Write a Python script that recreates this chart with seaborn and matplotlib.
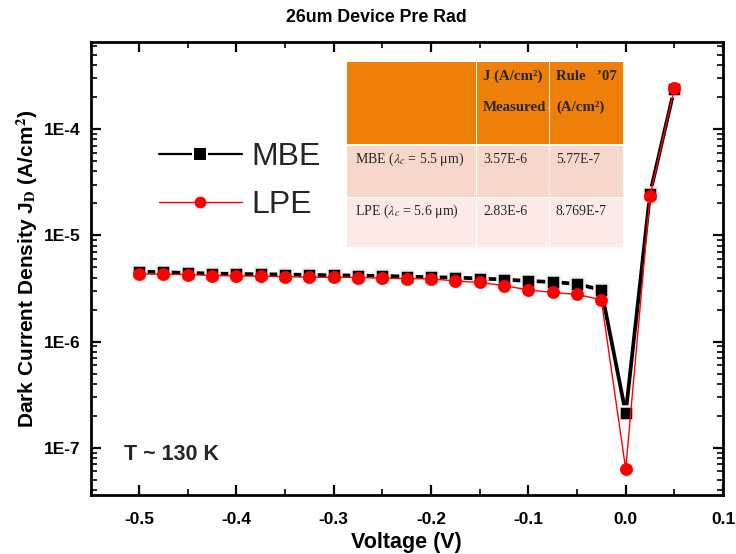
import numpy as np
import pandas as pd
import matplotlib
matplotlib.use("Agg")
import matplotlib.pyplot as plt
import seaborn as sns
from matplotlib.patches import Rectangle
from matplotlib.lines import Line2D
from matplotlib.ticker import FixedLocator, LogLocator, NullFormatter, MultipleLocator

# ---------------- data ----------------
voltage = [-0.5, -0.475, -0.45, -0.425, -0.4, -0.375, -0.35, -0.325, -0.3, -0.275,
           -0.25, -0.225, -0.2, -0.175, -0.15, -0.125, -0.1, -0.075, -0.05, -0.025,
           0.0, 0.025, 0.05]
mbe_j = [4.56e-6, 4.49e-6, 4.43e-6, 4.37e-6, 4.33e-6, 4.30e-6, 4.28e-6, 4.24e-6, 4.21e-6, 4.18e-6,
         4.15e-6, 4.09e-6, 4.03e-6, 4.01e-6, 3.92e-6, 3.84e-6, 3.72e-6, 3.64e-6, 3.49e-6, 3.06e-6,
         2.12e-7, 2.47e-5, 2.40e-4]
lpe_j = [4.33e-6, 4.30e-6, 4.28e-6, 4.18e-6, 4.15e-6, 4.12e-6, 4.09e-6, 4.03e-6, 4.03e-6, 4.01e-6,
         3.95e-6, 3.92e-6, 3.89e-6, 3.72e-6, 3.60e-6, 3.37e-6, 3.06e-6, 2.90e-6, 2.78e-6, 2.47e-6,
         6.3e-8, 2.34e-5, 2.42e-4]
series_names = ["MBE", "LPE"]

x_ticks = [-0.5, -0.4, -0.3, -0.2, -0.1, 0.0, 0.1]
x_tick_labels = ["-0.5", "-0.4", "-0.3", "-0.2", "-0.1", "0.0", "0.1"]
y_ticks = [1e-7, 1e-6, 1e-5, 1e-4]
y_tick_labels = ["1E-7", "1E-6", "1E-5", "1E-4"]

table_header = ["", "J (A/cm\u00b2)\nMeasured", "Rule   \u201907\n(A/cm\u00b2)"]
table_rows = [["MBE ($\\lambda_c$ = 5.5 \u03bcm)", "3.57E-6", "5.77E-7"],
              ["LPE ($\\lambda_c$ = 5.6 \u03bcm)", "2.83E-6", "8.769E-7"]]

# ---------------- style ----------------
sns.set_theme(style="white")
plt.rcParams["font.family"] = ["Liberation Sans", "DejaVu Sans"]
plt.rcParams["mathtext.fontset"] = "stix"

W, H = 736, 554
fig = plt.figure(figsize=(W / 100, H / 100), dpi=100)
ax_l, ax_r, ax_t, ax_b = 90.5, 723, 42, 495
ax = fig.add_axes([ax_l / W, 1 - ax_b / H, (ax_r - ax_l) / W, (ax_b - ax_t) / H])

df = pd.DataFrame({"V": voltage, "MBE": mbe_j, "LPE": lpe_j})

sns.lineplot(data=df, x="V", y="MBE", ax=ax, color="black", lw=2.7,
             marker="s", markersize=10.6, markerfacecolor="black",
             markeredgecolor="#f2f2f2", markeredgewidth=1.8, zorder=3, legend=False)
sns.lineplot(data=df, x="V", y="LPE", ax=ax, color="red", lw=1.0,
             marker="o", markersize=8.8, markerfacecolor="red",
             markeredgecolor="red", markeredgewidth=0.5, zorder=4, legend=False)

ax.set_yscale("log")
ax.set_xlim(-0.55, 0.1)
ax.set_ylim(3.6e-8, 6.6e-4)

ax.xaxis.set_major_locator(FixedLocator(x_ticks))
ax.set_xticklabels(x_tick_labels)
ax.xaxis.set_minor_locator(MultipleLocator(0.05))
ax.yaxis.set_major_locator(FixedLocator(y_ticks))
ax.set_yticklabels(y_tick_labels)
ax.yaxis.set_minor_locator(LogLocator(base=10, subs=np.arange(2, 10)))
ax.yaxis.set_minor_formatter(NullFormatter())

ax.tick_params(which="both", direction="in", bottom=True, left=True, top=True, right=True,
               color="black", labelcolor="black")
ax.tick_params(which="major", length=7, width=1.6, labelsize=12.5)
ax.tick_params(axis="x", which="major", pad=12)
ax.tick_params(axis="y", which="major", pad=7)
ax.tick_params(which="minor", length=4, width=1.2)
for lab in ax.get_xticklabels() + ax.get_yticklabels():
    lab.set_fontweight("bold")
for s in ax.spines.values():
    s.set_linewidth(2)
    s.set_color("black")

ax.set_xlabel("Voltage (V)", fontsize=15.5, fontweight="bold", labelpad=4, color="black")
ax.set_ylabel("Dark Current Density J$_\\mathbf{D}$ (A/cm$^\\mathbf{2}$)", fontsize=15,
              fontweight="bold", labelpad=3, color="black")
fig.text(376 / W, 1 - 17 / H, "26um Device Pre Rad", fontsize=12.8, fontweight="bold",
         ha="center", va="center", color="black")

ax.text(-0.5155, 8.6e-8, "T ~ 130 K", fontsize=15.5, fontweight="bold", va="center", ha="left")

handles = [Line2D([], [], color="black", lw=1.6, marker="s", markersize=10,
                  markerfacecolor="black", markeredgecolor="white", markeredgewidth=1.5),
           Line2D([], [], color="red", lw=1.0, marker="o", markersize=8,
                  markerfacecolor="red", markeredgecolor="red", markeredgewidth=0.5)]
leg = ax.legend(handles, series_names, loc="center left", bbox_to_anchor=(0.108, 0.693),
                frameon=False, fontsize=23, handlelength=2.6, handletextpad=0.3,
                labelspacing=0.55, borderpad=0, borderaxespad=0)

# ---------------- table ----------------
def px2ax(x, y):
    return (x - ax_l) / (ax_r - ax_l), 1 - (y - ax_t) / (ax_b - ax_t)

col_edges = [(347, 476), (477, 549), (550, 623)]
row_edges = [(62, 144), (146, 197), (198, 247)]
row_colors = ["#ee8009", "#f7d7cb", "#fbeae6"]

for ri, (y0, y1) in enumerate(row_edges):
    for ci, (x0, x1) in enumerate(col_edges):
        ax_x0, ax_y1 = px2ax(x0, y1)
        ax_x1, ax_y0 = px2ax(x1, y0)
        ax.add_patch(Rectangle((ax_x0, ax_y1), ax_x1 - ax_x0, ax_y0 - ax_y1,
                               transform=ax.transAxes, facecolor=row_colors[ri],
                               edgecolor="none", zorder=5))
        if ri == 0:
            txt = table_header[ci]
            if txt:
                l1, l2 = txt.split("\n")
                tx, ty = px2ax(x0 + 6, 76)
                ax.text(tx, ty, l1, transform=ax.transAxes, fontsize=10.7, fontweight="bold",
                        family="Liberation Serif", va="center", ha="left", zorder=6)
                tx, ty = px2ax(x0 + 6, 107)
                ax.text(tx, ty, l2, transform=ax.transAxes, fontsize=10.7, fontweight="bold",
                        family="Liberation Serif", va="center", ha="left", zorder=6)
        else:
            txt = table_rows[ri - 1][ci]
            tx, ty = px2ax(x0 + (8 if ci == 0 else 6), y0 + 13)
            ax.text(tx, ty, txt, transform=ax.transAxes, fontsize=10,
                    family="Liberation Serif", va="center", ha="left", zorder=6)

fig.savefig("out.png", dpi=100)
